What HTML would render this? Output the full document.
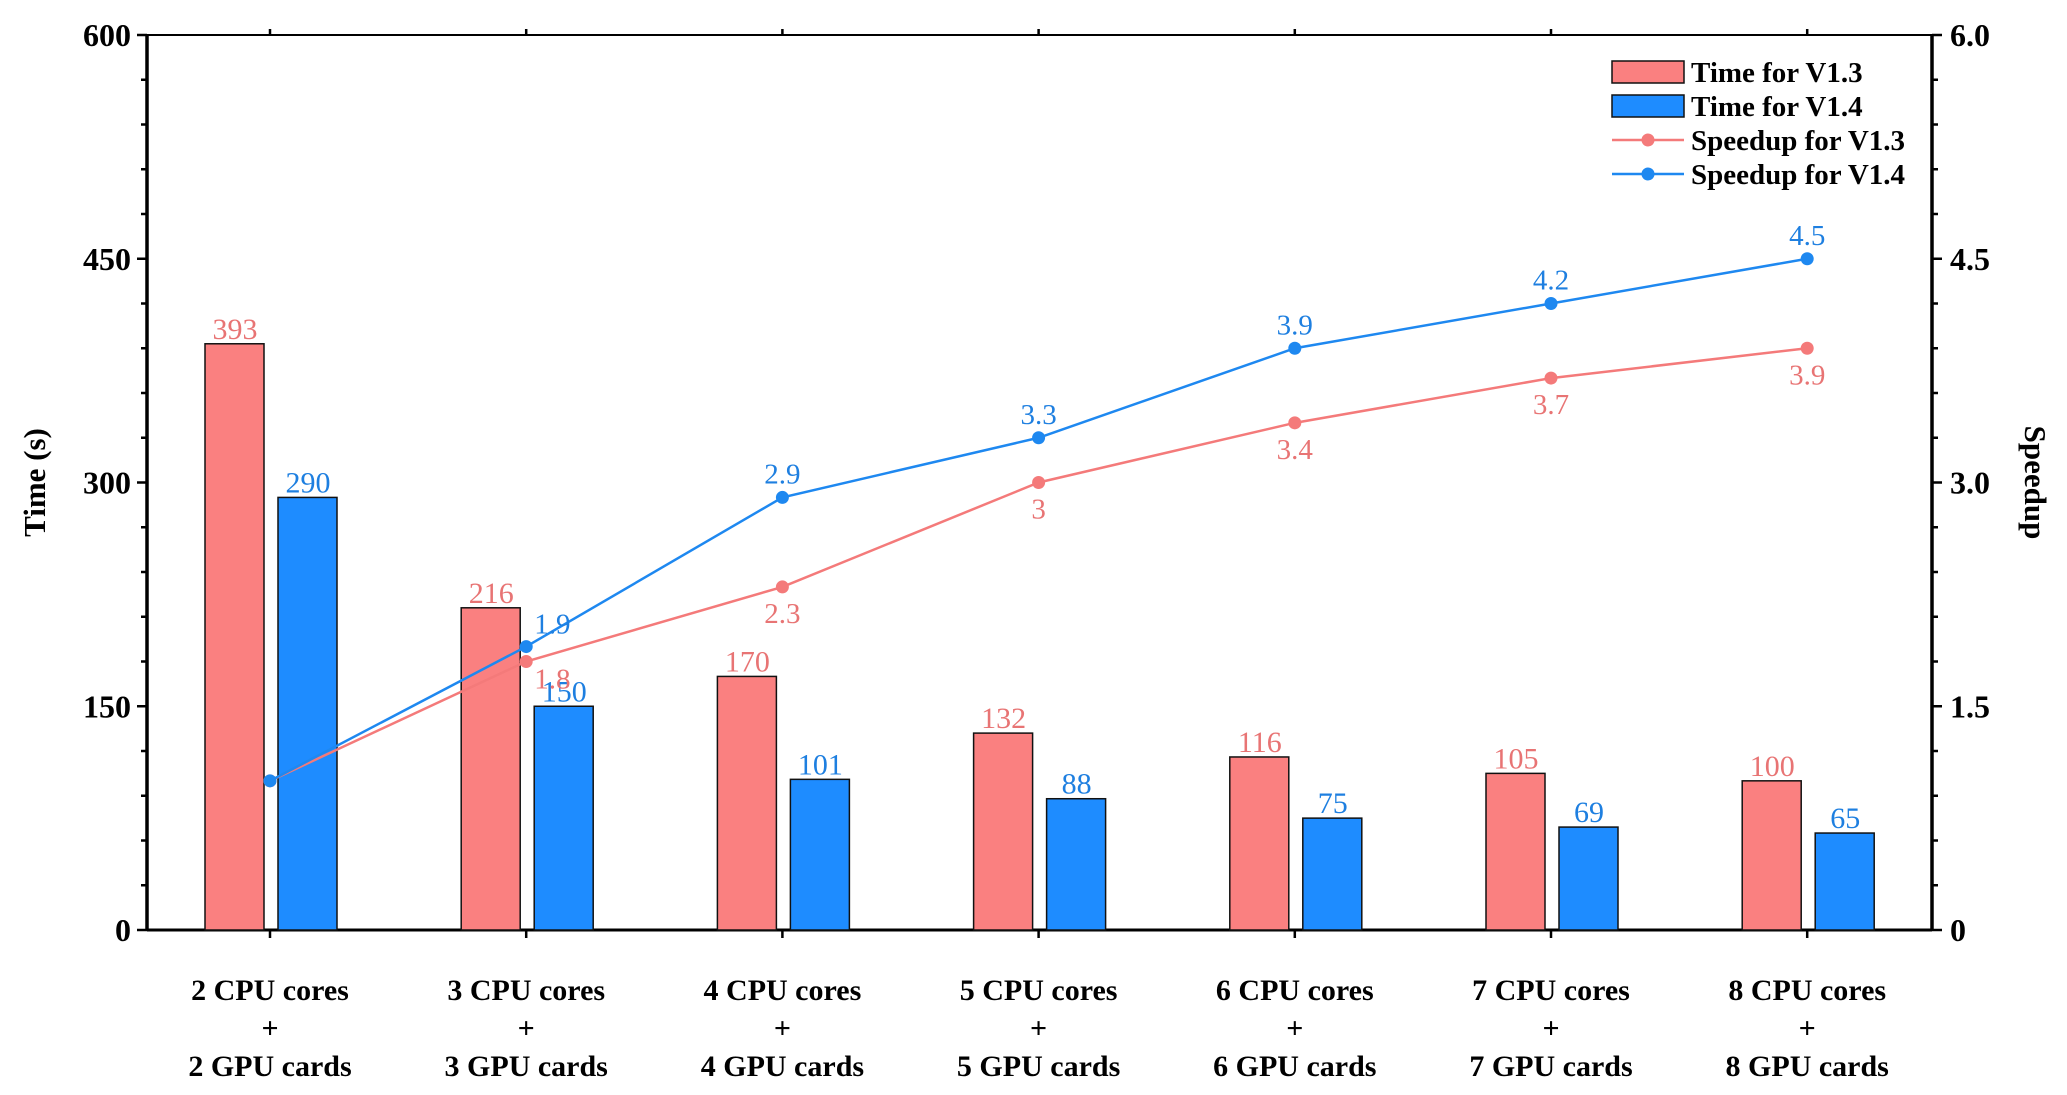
<!DOCTYPE html>
<html><head><meta charset="utf-8"><style>
html,body{margin:0;padding:0;background:#fff;}
svg{display:block;font-family:"Liberation Serif",serif;}
</style></head><body>
<svg id="chart" width="2067" height="1095" viewBox="0 0 2067 1095" xmlns="http://www.w3.org/2000/svg">
<g id="g"></g>
</svg>
<script>
const categories = ["2","3","4","5","6","7","8"];
const timeV13 = [393,216,170,132,116,105,100];
const timeV14 = [290,150,101,88,75,69,65];
const speedV13 = [1,1.8,2.3,3,3.4,3.7,3.9];
const speedV14 = [1,1.9,2.9,3.3,3.9,4.2,4.5];
const leftTicks = [0,150,300,450,600];
const rightTicks = ["0","1.5","3.0","4.5","6.0"];

const NS="http://www.w3.org/2000/svg";
const g=document.getElementById('g');
const L=147,R=1932,T=35,B=930;
const x0=270,dx=256.2;
const cx=i=>x0+i*dx;
const yL=v=>B-(v/600)*(B-T);
const yR=v=>B-(v/6)*(B-T);
function el(tag,attrs,text){const e=document.createElementNS(NS,tag);for(const k in attrs)e.setAttribute(k,attrs[k]);if(text!==undefined)e.textContent=text;g.appendChild(e);return e;}

let f=el('rect',{x:L,y:T,width:R-L,height:B-T,fill:'none',stroke:'#000','stroke-width':2});


el('line',{x1:L,y1:T,x2:L,y2:B,stroke:'#000','stroke-width':3.5});
el('line',{x1:R,y1:T,x2:R,y2:B,stroke:'#000','stroke-width':3.5});
el('line',{x1:L,y1:B,x2:R,y2:B,stroke:'#000','stroke-width':3});

for(let v=0;v<=600;v+=30){
  const y=yL(v);const major=v%150===0;
  el('line',{x1:L-(major?10:6),y1:y,x2:L,y2:y,stroke:'#000','stroke-width':2.5});
  el('line',{x1:R,y1:y,x2:R+(major?10:6),y2:y,stroke:'#000','stroke-width':2.5});
}
leftTicks.forEach((v,i)=>{
  let t=el('text',{x:L-16,y:yL(v)+11,'text-anchor':'end','font-size':32,'font-weight':'bold'},String(v));
  
  
  let t2=el('text',{x:R+18,y:yL(v)+11,'text-anchor':'start','font-size':32,'font-weight':'bold'},rightTicks[i]);
  
  
});
let yt=el('text',{x:0,y:0,transform:`translate(45,${(T+B)/2}) rotate(-90)`,'text-anchor':'middle','font-size':31,'font-weight':'bold'},'Time (s)');


let yt2=el('text',{x:0,y:0,transform:`translate(2025,${(T+B)/2}) rotate(90)`,'text-anchor':'middle','font-size':31,'font-weight':'bold'},'Speedup');



categories.forEach((c,i)=>{
  const x=cx(i);
  el('line',{x1:x,y1:B,x2:x,y2:B+8,stroke:'#000','stroke-width':2.5});
  el('line',{x1:x,y1:T,x2:x,y2:T-6,stroke:'#000','stroke-width':2.5});
  let b1=el('rect',{x:x-65,y:yL(timeV13[i]),width:59,height:B-yL(timeV13[i]),fill:'#FA8080',stroke:'#111','stroke-width':1.5});
  
  
  let b2=el('rect',{x:x+8,y:yL(timeV14[i]),width:59,height:B-yL(timeV14[i]),fill:'#1E8CFF',stroke:'#111','stroke-width':1.5});
  
  
  let l1=el('text',{x:x-35,y:yL(timeV13[i])-5,'text-anchor':'middle','font-size':30,fill:'#E87474'},String(timeV13[i]));
  
  
  let l2=el('text',{x:x+38,y:yL(timeV14[i])-5,'text-anchor':'middle','font-size':30,fill:'#1E7FE0'},String(timeV14[i]));
  
  
  const lines=[c+' CPU cores','+',c+' GPU cards'];
  lines.forEach((s,k)=>{
    let t=el('text',{x:x,y:1000+k*38,'text-anchor':'middle','font-size':30,'font-weight':'bold'},s);
    
    
  });
});

function series(vals,color,name,above){
  const pts=vals.map((v,i)=>cx(i)+','+yR(v)).join(' ');
  let p=el('polyline',{points:pts,fill:'none',stroke:color,'stroke-width':2.5});
  
  
  vals.forEach((v,i)=>{
    let m=el('circle',{cx:cx(i),cy:yR(v),r:6.5,fill:color});
    
    
    if(i===0)return;
    let tx=cx(i),ty=above?yR(v)-14:yR(v)+36,anchor='middle';
    if(i===1){tx=cx(i)+8;anchor='start';ty=above?yR(v)-13:yR(v)+27;}
    let t=el('text',{x:tx,y:ty,'text-anchor':anchor,'font-size':29,fill:above?'#1E7FE0':'#E87474'},String(v));
    
    
  });
}
series(speedV13,'#F47A7A','speedup-v13',false);
series(speedV14,'#1E88F0','speedup-v14',true);

const legendItems=[['Time for V1.3','bar','#FA8080'],['Time for V1.4','bar','#1E8CFF'],['Speedup for V1.3','line','#F47A7A'],['Speedup for V1.4','line','#1E88F0']];
legendItems.forEach((it,k)=>{
  const y=72+k*34;
  if(it[1]==='bar'){
    let r=el('rect',{x:1612,y:y-11,width:72,height:22,fill:it[2],stroke:'#111','stroke-width':1.5});
    
    
  } else {
    el('line',{x1:1612,y1:y,x2:1684,y2:y,stroke:it[2],'stroke-width':2.5});
    el('circle',{cx:1648,cy:y,r:6.5,fill:it[2]});
  }
  let t=el('text',{x:1691,y:y+10,'font-size':29,'font-weight':'bold'},it[0]);
  
  
});
</script>
</body></html>
